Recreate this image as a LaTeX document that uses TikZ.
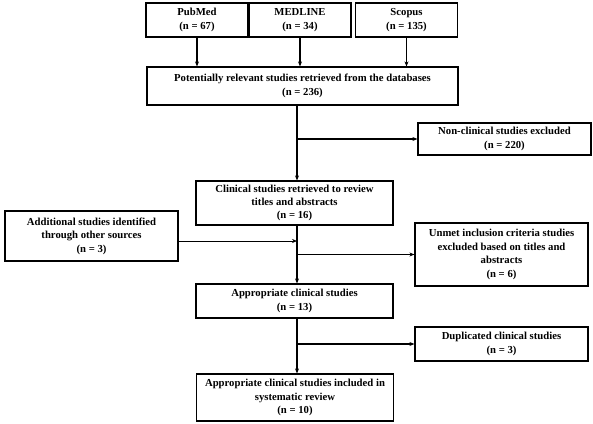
\documentclass[tikz,border=0pt]{standalone}
\usepackage{fontspec}
\setmainfont{Liberation Serif}
\usepackage{tikz}
\usetikzlibrary{arrows.meta,positioning}
\tikzstyle{box} = [rectangle, draw=black, line width=1.2pt, align=center, inner sep=0pt, font=\bfseries\fontsize{10.7}{13.4}\selectfont]
\tikzstyle{src} = [box, minimum width=102pt, minimum height=34pt]
\tikzstyle{wide} = [box, minimum width=197pt]
\tikzstyle{side} = [box, minimum width=173pt]
\tikzstyle{arr} = [-{Stealth[length=5pt,width=4pt]}, line width=1.2pt]
\tikzstyle{thin arr} = [-{Stealth[length=5pt,width=4pt]}, line width=0.7pt]

\begin{document}
\begin{tikzpicture}[x=1pt, y=-1pt]
		\useasboundingbox (0,0) rectangle (593,423);

		% databases
		\node[src] (pm) at (197,20) {PubMed\\(n = 67)};
		\node[src] (ml) at (300,20) {MEDLINE\\(n = 34)};
		\node[src] (sc) at (406.5,20) {Scopus\\(n = 135)};

		\node[box, minimum width=311pt, minimum height=38pt] (pot) at (302.5,86) {Potentially relevant studies retrieved from the databases\\(n = 236)};
		\node[side, minimum height=32pt] (noncl) at (504.5,139) {Non-clinical studies excluded\\(n = 220)};

		\node[wide, minimum height=44pt] (clin) at (294.5,203) {Clinical studies retrieved to review\\titles and abstracts\\(n = 16)};
		\node[side, minimum height=50pt] (add) at (91.5,236) {Additional studies identified\\through other sources\\(n = 3)};
		\node[side, minimum height=63pt] (unmet) at (501.5,254.5) {Unmet inclusion criteria studies\\excluded based on titles and\\abstracts\\(n = 6)};

		\node[wide, minimum height=34pt] (appr) at (294.5,301) {Appropriate clinical studies\\(n = 13)};
		\node[side, minimum height=34pt] (dup) at (501.5,344) {Duplicated clinical studies\\(n = 3)};
		\node[wide, minimum height=47pt] (fin) at (295,397.5) {Appropriate clinical studies included in\\systematic review\\(n = 10)};

		\coordinate (sp) at (297,0);
		\coordinate (b1) at (297,139);
		\coordinate (b2) at (297,254.5);
		\coordinate (b3) at (297,344);

		\draw[arr] (pm.south) -- (pm.south |- pot.north);
		\draw[arr] (ml.south) -- (ml.south |- pot.north);
		\draw[arr] (sc.south) -- (sc.south |- pot.north);

		\draw[arr] (pot.south -| sp) -- (clin.north -| sp);
		\draw[arr] (b1) -- (noncl.west);
		\draw[line width=1.2pt] (clin.south -| sp) -- (b2);
		\draw[arr] (b2) -- (appr.north -| sp);
		\draw[thin arr] ([yshift=-5pt]add.east) -- ([yshift=-5pt]add.east -| sp);
		\draw[arr] (b2) -- (unmet.west);
		\draw[arr] (appr.south -| sp) -- (fin.north -| sp);
		\draw[arr] (b3) -- (dup.west);
	\end{tikzpicture}
\end{document}
